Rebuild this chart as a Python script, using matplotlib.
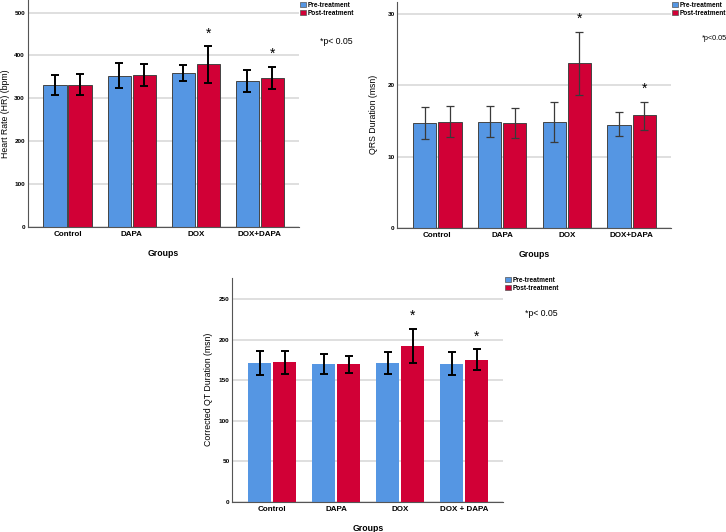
import matplotlib
matplotlib.use('Agg')
import matplotlib.pyplot as plt
from matplotlib.patches import Patch
import numpy as np

plt.rcParams['font.family'] = ['Liberation Sans', 'DejaVu Sans']

groups = ['Control', 'DAPA', 'DOX', 'DOX+DAPA']
groups_qt = ['Control', 'DAPA', 'DOX', 'DOX + DAPA']

# heart rate (bpm)
hr_pre = [331, 352, 358, 341]
hr_post = [331, 354, 379, 348]
hr_pre_lo = [307, 323, 340, 315]
hr_pre_hi = [355, 382, 378, 366]
hr_post_lo = [307, 329, 336, 322]
hr_post_hi = [356, 380, 422, 374]

# QRS duration (msn)
qrs_pre = [14.7, 14.9, 14.8, 14.5]
qrs_post = [14.9, 14.7, 23.1, 15.8]
qrs_pre_lo = [12.5, 12.7, 12.1, 12.9]
qrs_pre_hi = [16.9, 17.1, 17.6, 16.2]
qrs_post_lo = [12.7, 12.6, 18.7, 13.8]
qrs_post_hi = [17.1, 16.8, 27.5, 17.7]

# corrected QT duration (msn)
qt_pre = [171.5, 169.8, 171.0, 170.2]
qt_post = [171.9, 169.4, 192.4, 174.8]
qt_pre_lo = [156.5, 158.0, 158.0, 156.5]
qt_pre_hi = [186.0, 182.2, 184.2, 185.0]
qt_post_lo = [157.0, 158.5, 171.5, 162.0]
qt_post_hi = [186.0, 180.0, 213.4, 188.0]

sig = [False, False, True, True]

blue = '#5596e3'
red = '#d10036'
W, H = 726, 532


def box(l, r, top, bottom):
    return [l / W, 1 - bottom / H, (r - l) / W, (bottom - top) / H]


def panel(rect, labels, pre, post, pre_lo, pre_hi, post_lo, post_hi,
          ymax, yticks, ylabel, ecolor, elw, edge, lpad):
    ax = fig.add_axes(rect)
    x = np.arange(len(labels))
    w = 0.36
    off = 0.195
    ax.bar(x - off, pre, w, color=blue, edgecolor=edge, linewidth=0.7, zorder=2)
    ax.bar(x + off, post, w, color=red, edgecolor=edge, linewidth=0.7, zorder=2)
    pre = np.array(pre); post = np.array(post)
    ax.errorbar(x - off, pre, yerr=[pre - np.array(pre_lo), np.array(pre_hi) - pre],
                fmt='none', ecolor=ecolor, elinewidth=elw, capsize=3, capthick=elw, zorder=3)
    ax.errorbar(x + off, post, yerr=[post - np.array(post_lo), np.array(post_hi) - post],
                fmt='none', ecolor=ecolor, elinewidth=elw, capsize=3, capthick=elw, zorder=3)
    for i in range(len(labels)):
        if sig[i]:
            ax.text(x[i] + off, post_hi[i] + ymax * 0.025, '*', ha='center', va='bottom',
                    fontsize=10)
    ax.set_xlim(-0.62, 3.61)
    ax.set_ylim(0, ymax)
    ax.set_yticks(yticks)
    ax.set_xticks(x)
    ax.set_xticklabels(labels, fontsize=5.8, fontweight='bold')
    ax.tick_params(axis='y', labelsize=4.6, length=0, pad=2)
    for t in ax.get_yticklabels():
        t.set_fontweight('bold')
    ax.tick_params(axis='x', length=0, pad=3)
    ax.set_ylabel(ylabel, fontsize=6.3, labelpad=lpad)
    ax.set_xlabel('Groups', fontsize=6.3, fontweight='bold', labelpad=8)
    ax.grid(axis='y', color='#d9d9d9', linewidth=1.2, zorder=0)
    ax.set_axisbelow(True)
    for s in ['top', 'right']:
        ax.spines[s].set_visible(False)
    for s in ['left', 'bottom']:
        ax.spines[s].set_color('#555555')
        ax.spines[s].set_linewidth(0.8)
    return ax


def legend(x, y):
    handles = [Patch(facecolor=blue, edgecolor='#555555', linewidth=0.5, label='Pre-treatment'),
               Patch(facecolor=red, edgecolor='#555555', linewidth=0.5, label='Post-treatment')]
    leg = fig.legend(handles=handles, loc='upper left', bbox_to_anchor=(x / W, 1 - y / H),
                     frameon=False, prop={'size': 4.7, 'weight': 'bold'},
                     handlelength=0.9, handleheight=0.9, handletextpad=0.25,
                     labelspacing=0.15, borderpad=0, borderaxespad=0)
    return leg


fig = plt.figure(figsize=(W / 100, H / 100), dpi=100)

panel(box(27.7, 299, 0.5, 227), groups, hr_pre, hr_post, hr_pre_lo, hr_pre_hi,
      hr_post_lo, hr_post_hi, 528, [0, 100, 200, 300, 400, 500],
      'Heart Rate (HR) (bpm)', 'black', 1.4, '#444444', 3)
panel(box(397.3, 671, 1.5, 228), groups, qrs_pre, qrs_post, qrs_pre_lo, qrs_pre_hi,
      qrs_post_lo, qrs_post_hi, 31.75, [0, 10, 20, 30],
      'QRS Duration (msn)', '#3a3a3a', 0.9, '#444444', 7)
panel(box(232.3, 503.3, 277.9, 501.7), groups_qt, qt_pre, qt_post, qt_pre_lo, qt_pre_hi,
      qt_post_lo, qt_post_hi, 276, [0, 50, 100, 150, 200, 250],
      'Corrected QT Duration (msn)', 'black', 1.4, 'none', 4)

legend(300, 2)
legend(672, 2)
legend(505, 277)

fig.text(320 / W, 1 - 41 / H, '*p< 0.05', fontsize=6.3, va='center')
fig.text(702 / W, 1 - 39 / H, '*p<0.05', fontsize=5.2, va='center')
fig.text(525 / W, 1 - 314 / H, '*p< 0.05', fontsize=6.3, va='center')

fig.savefig('out.png', dpi=100)
